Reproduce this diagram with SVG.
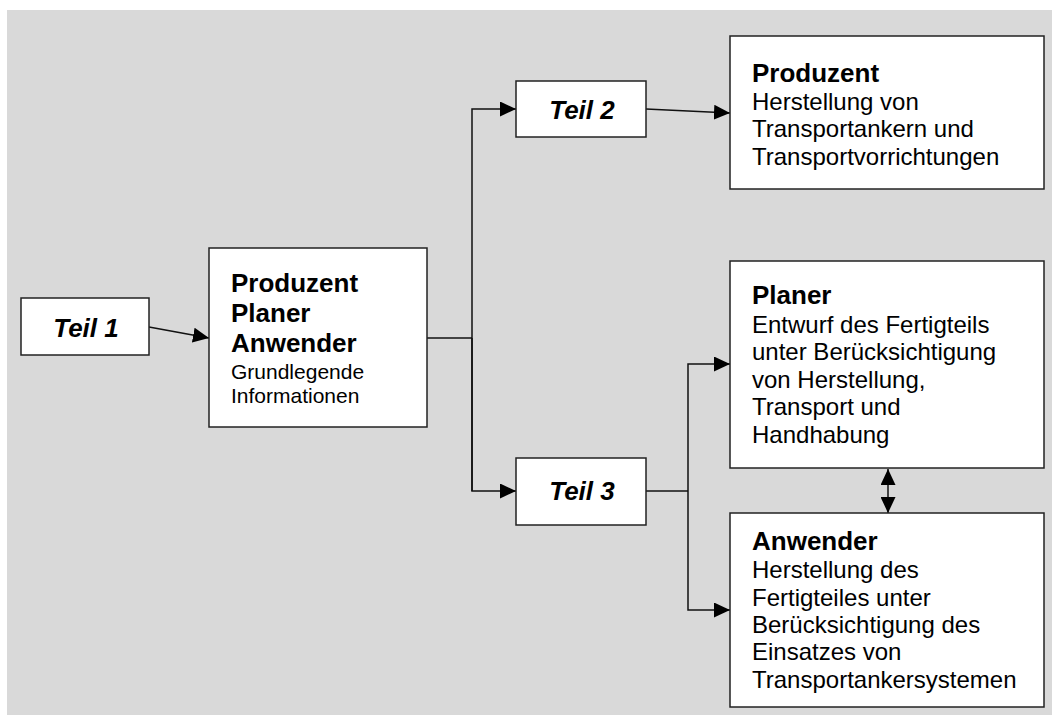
<svg xmlns="http://www.w3.org/2000/svg" width="1052" height="715" viewBox="0 0 1052 715">
<style>
.box{fill:#fff;stroke:#222;stroke-width:1.5}
.ln{fill:none;stroke:#111;stroke-width:1.5}
text{font-family:"Liberation Sans",Arial,sans-serif;fill:#000}
.b{font-weight:bold;font-size:26px}
.bi{font-weight:bold;font-style:italic;font-size:26px}
.r{font-size:24px}
.rs{font-size:21px}
</style>
<defs>
<marker id="ah" viewBox="0 0 16 15" refX="16" refY="7.5" markerWidth="16" markerHeight="15" markerUnits="userSpaceOnUse" orient="auto-start-reverse">
<path d="M0,0 L16,7.5 L0,15 Z" fill="#000"/>
</marker>
</defs>
<rect x="7" y="10" width="1045" height="705" fill="#d9d9d9"/>
<g id="connectors">
<line class="ln" x1="149" y1="327" x2="209" y2="338" marker-end="url(#ah)"/>
<polyline class="ln" points="427,338 472,338"/>
<polyline class="ln" points="472,491 472,109 516,109" marker-end="url(#ah)"/>
<polyline class="ln" points="472,338 472,491 516,491" marker-end="url(#ah)"/>
<line class="ln" x1="646" y1="109" x2="730" y2="113" marker-end="url(#ah)"/>
<polyline class="ln" points="646,491 688,491"/>
<polyline class="ln" points="688,491 688,364 730,364" marker-end="url(#ah)"/>
<polyline class="ln" points="688,491 688,610 730,610" marker-end="url(#ah)"/>
<line class="ln" x1="888" y1="469" x2="888" y2="513" marker-start="url(#ah)" marker-end="url(#ah)"/>
</g>
<g id="teil1">
<rect class="box" x="21" y="298" width="128" height="57"/>
<text class="bi" x="86" y="337" text-anchor="middle">Teil 1</text>
</g>
<g id="main">
<rect class="box" x="209" y="248" width="218" height="179"/>
<text class="b" x="231" y="292">Produzent</text>
<text class="b" x="231" y="322">Planer</text>
<text class="b" x="231" y="352">Anwender</text>
<text class="rs" x="231" y="379">Grundlegende</text>
<text class="rs" x="231" y="403">Informationen</text>
</g>
<g id="teil2">
<rect class="box" x="516" y="81" width="130" height="56"/>
<text class="bi" x="582" y="119" text-anchor="middle">Teil 2</text>
</g>
<g id="teil3">
<rect class="box" x="516" y="458" width="130" height="67"/>
<text class="bi" x="582" y="500" text-anchor="middle">Teil 3</text>
</g>
<g id="produzent">
<rect class="box" x="730" y="36" width="314" height="153"/>
<text class="b" x="752" y="82">Produzent</text>
<text class="r" x="752" y="110">Herstellung von</text>
<text class="r" x="752" y="137">Transportankern und</text>
<text class="r" x="752" y="165">Transportvorrichtungen</text>
</g>
<g id="planer">
<rect class="box" x="730" y="261" width="314" height="207"/>
<text class="b" x="752" y="304">Planer</text>
<text class="r" x="752" y="333">Entwurf des Fertigteils</text>
<text class="r" x="752" y="360">unter Berücksichtigung</text>
<text class="r" x="752" y="388">von Herstellung,</text>
<text class="r" x="752" y="415">Transport und</text>
<text class="r" x="752" y="443">Handhabung</text>
</g>
<g id="anwender">
<rect class="box" x="730" y="513" width="314" height="194"/>
<text class="b" x="752" y="550">Anwender</text>
<text class="r" x="752" y="578">Herstellung des</text>
<text class="r" x="752" y="606">Fertigteiles unter</text>
<text class="r" x="752" y="633">Berücksichtigung des</text>
<text class="r" x="752" y="660">Einsatzes von</text>
<text class="r" x="752" y="688">Transportankersystemen</text>
</g>
</svg>
